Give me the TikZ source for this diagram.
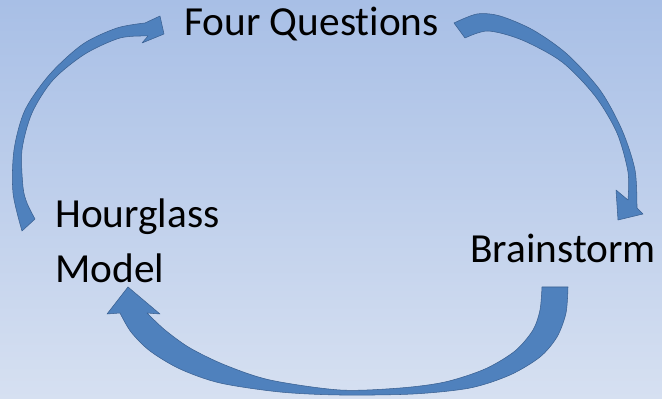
\documentclass[tikz,border=0pt]{standalone}
\usepackage{fontspec}
\setmainfont{Carlito}[Ligatures=NoCommon]
\definecolor{bgtop}{RGB}{168,191,230}
\definecolor{bgbot}{RGB}{214,224,241}
\definecolor{arrfill}{RGB}{79,129,189}
\definecolor{arredge}{RGB}{58,96,145}
\tikzset{
  curvarrow/.style={fill=arrfill, draw=arredge, line width=0.4pt, line join=round},
  label/.style={inner sep=0pt, font=\fontsize{31}{37}\selectfont, text=black}
}
\begin{document}
\begin{tikzpicture}[x=0.75pt,y=-0.75pt]
\useasboundingbox (0,0) rectangle (662,399);
\shade[top color=bgtop, bottom color=bgbot] (0,0) rectangle (662,399);

\node[label, anchor=base west] (fq) at (184,36) {Four Questions};
\node[label, anchor=base west] (hg) at (55,228) {Hourglass};
\node[label, anchor=base west] (md) at (55,283) {Model};
\node[label, anchor=base west] (bs) at (470,263) {Brainstorm};

% Four Questions -> Brainstorm
\path[curvarrow] (454,23) -- plot[smooth] coordinates {(454,23) (477,14) (500,16) (533,30) (567,54) (600,90) (622,130) (635,170) (637,208)}
  -- (643,214) -- (618,220) -- (616,190)
  -- plot[smooth] coordinates {(628,200) (628,172) (617,133) (595,96) (562,62) (522,40) (488,31) (465,38)} -- cycle;

% Brainstorm -> Hourglass Model
\path[curvarrow] (542,287) -- (568,287) -- plot[smooth] coordinates {(568,287) (566,313) (557,337) (540,357) (510,375) (470,388) (413,394) (340,395) (280,392) (220,383) (180,369) (150,351) (131,332) (120,313)}
  -- (107,314) -- (128,287) -- (160,314)
  -- plot[smooth] coordinates {(147,313) (165,330) (190,348) (225,365) (270,380) (340,390) (400,388) (445,382) (485,369) (515,351) (533,330) (540,310) (542,287)} -- cycle;

% Hourglass Model -> Four Questions
\path[curvarrow] (22,231) -- (35,219) -- plot[smooth] coordinates {(35,219) (27,203) (23,187) (22,150) (32,113) (53,80) (85,54) (120,38) (148,36)}
  -- (142,43) -- (164,34) -- (160,16)
  -- plot[smooth] coordinates {(145,23) (117,28) (83,44) (50,74) (25,110) (14,150) (13,193) (22,231)} -- cycle;
\end{tikzpicture}
\end{document}
